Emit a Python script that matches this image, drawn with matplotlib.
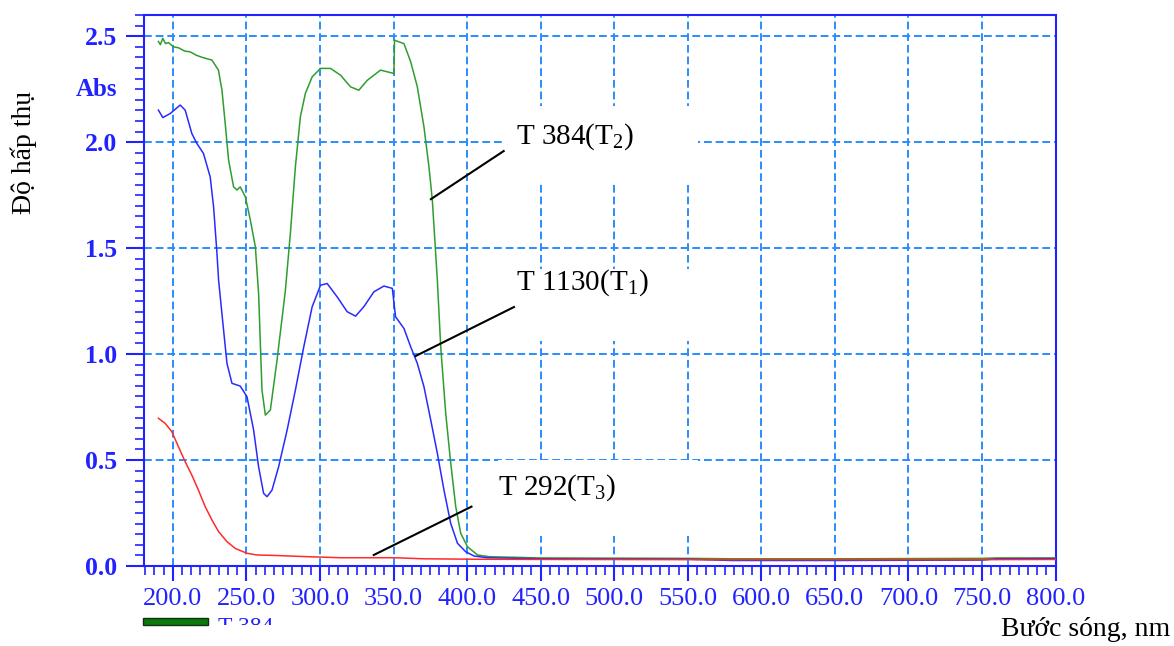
import matplotlib
matplotlib.use("Agg")
import matplotlib.pyplot as plt
from matplotlib.ticker import MultipleLocator, FormatStrFormatter
from matplotlib.patches import Rectangle
from matplotlib.transforms import Bbox

# wavelength (nm) / absorbance
t2_x = [190.2, 191.5, 193.2, 195.0, 197.0, 200.4, 204.0, 208.0, 211.8, 216.0, 220.0, 226.6, 231.0, 233.4,
        235.6, 237.9, 241.3, 243.6, 245.8, 249.3, 252.7, 256.1, 258.3, 260.6, 262.9, 266.3, 270.8,
        276.5, 279.9, 283.3, 286.7, 290.1, 294.7, 300.4, 307.2, 314.0, 320.8, 326.4, 332.2, 341.2,
        350.3, 350.7, 357.1, 361.7, 366.2, 370.7, 374.1, 376.4, 379.8, 382.1, 385.5, 388.9, 392.3,
        395.7, 400.3, 407.1, 415.0, 450.0, 500.0, 550.0, 580.0, 650.0, 700.0, 750.0, 760.0, 800.0]
t2_y = [2.475, 2.46, 2.49, 2.465, 2.47, 2.45, 2.445, 2.43, 2.426, 2.41, 2.40, 2.387, 2.34, 2.245,
        2.088, 1.915, 1.789, 1.774, 1.789, 1.742, 1.632, 1.506, 1.286, 0.83, 0.712, 0.736, 0.97,
        1.30, 1.57, 1.883, 2.12, 2.23, 2.308, 2.348, 2.348, 2.316, 2.261, 2.245, 2.292, 2.34,
        2.324, 2.481, 2.465, 2.379, 2.261, 2.072, 1.883, 1.726, 1.349, 1.034, 0.72, 0.485, 0.28,
        0.154, 0.091, 0.052, 0.044, 0.038, 0.037, 0.036, 0.034, 0.034, 0.035, 0.036, 0.038, 0.038]

t1_x = [190.2, 193.2, 198.2, 205.0, 208.4, 212.9, 216.3, 220.8, 225.4, 227.7, 230.0, 231.1, 234.5,
        236.8, 240.2, 245.8, 250.4, 254.9, 258.3, 261.7, 264.0, 267.4, 271.9, 277.7, 283.3, 289.0,
        294.7, 300.4, 304.9, 311.7, 318.5, 324.2, 329.8, 336.7, 343.5, 349.2, 351.4, 357.1, 361.7,
        366.2, 370.7, 375.3, 379.8, 384.3, 388.9, 393.5, 399.1, 404.8, 413.9, 450.0, 500.0, 550.0,
        580.0, 650.0, 700.0, 750.0, 760.0, 800.0]
t1_y = [2.151, 2.116, 2.135, 2.175, 2.151, 2.041, 1.994, 1.947, 1.836, 1.695, 1.475, 1.349, 1.113,
        0.956, 0.862, 0.849, 0.799, 0.642, 0.468, 0.343, 0.327, 0.358, 0.468, 0.642, 0.83, 1.034,
        1.223, 1.325, 1.333, 1.27, 1.20, 1.179, 1.223, 1.294, 1.321, 1.31, 1.176, 1.121, 1.034,
        0.956, 0.846, 0.689, 0.532, 0.358, 0.201, 0.107, 0.067, 0.047, 0.039, 0.034, 0.033, 0.032,
        0.026, 0.026, 0.027, 0.028, 0.034, 0.035]

t3_x = [190.2, 194.8, 199.3, 203.8, 208.4, 212.9, 217.4, 222.0, 226.6, 231.1, 236.8, 242.4, 250.4,
        257.2, 268.5, 291.3, 314.0, 350.3, 370.7, 404.8, 450.0, 550.0, 650.0, 750.0, 800.0]
t3_y = [0.697, 0.673, 0.634, 0.563, 0.492, 0.429, 0.358, 0.28, 0.217, 0.162, 0.115, 0.083, 0.06,
        0.052, 0.05, 0.044, 0.039, 0.039, 0.034, 0.032, 0.031, 0.03, 0.03, 0.03, 0.031]

x_ticks = [200, 250, 300, 350, 400, 450, 500, 550, 600, 650, 700, 750, 800]
y_ticks = [0.0, 0.5, 1.0, 1.5, 2.0, 2.5]

AX_BLUE = "#2222ff"
GRID_BLUE = "#2b8cff"
SERIF = "Liberation Serif"

plt.rcParams["mathtext.fontset"] = "custom"
plt.rcParams["mathtext.rm"] = SERIF

fig = plt.figure(figsize=(11.74, 6.46), dpi=100)
ax = fig.add_axes([144 / 1174, 80 / 646, 911.5 / 1174, 551 / 646])

ax.plot(t2_x, t2_y, color="#2e9e2e", lw=1.1, zorder=3)
ax.plot(t1_x, t1_y, color="#2a2aff", lw=1.1, zorder=3)
ax.plot(t3_x, t3_y, color="#ff2a2a", lw=1.1, zorder=3)

ax.set_xlim(180.4, 800)
ax.set_ylim(0, 2.6)

ax.xaxis.set_major_locator(MultipleLocator(50))
ax.xaxis.set_minor_locator(MultipleLocator(6.25))
ax.yaxis.set_major_locator(MultipleLocator(0.5))
ax.yaxis.set_minor_locator(MultipleLocator(0.05))
ax.set_xticks(x_ticks)
ax.set_yticks(y_ticks)
ax.xaxis.set_major_formatter(FormatStrFormatter("%.1f"))
ax.yaxis.set_major_formatter(FormatStrFormatter("%.1f"))

for s in ax.spines.values():
    s.set_color(AX_BLUE)
    s.set_linewidth(1.5)

ax.tick_params(axis="x", which="major", length=11, width=1.5, color=AX_BLUE, pad=5,
               labelsize=19, labelcolor=AX_BLUE)
ax.tick_params(axis="x", which="minor", length=6.5, width=1.2, color=AX_BLUE)
ax.tick_params(axis="y", which="major", length=13, width=1.5, color=AX_BLUE, pad=6,
               labelsize=18.5, labelcolor=AX_BLUE)
ax.tick_params(axis="y", which="minor", length=6.5, width=1.2, color=AX_BLUE)
for lab in ax.get_xticklabels():
    lab.set_fontfamily(SERIF)
for lab in ax.get_yticklabels():
    lab.set_fontfamily(SERIF)
    lab.set_fontweight("bold")

ax.set_axisbelow(True)
ax.grid(True, which="major", color=GRID_BLUE, lw=1.4, linestyle=(0, (4, 2)))

# white boxes behind the labels hide the grid there
for (x0, x1, y0, y1) in [(425, 557, 1.81, 2.17), (425, 557, 1.06, 1.40), (421, 557, 0.14, 0.50)]:
    ax.add_patch(Rectangle((x0, y0), x1 - x0, y1 - y0, facecolor="white", edgecolor="none", zorder=1))

# labels with leader lines
ax.plot([375.4, 424.9], [1.731, 1.958], color="black", lw=1.5, zorder=4)
ax.plot([365.1, 431.9], [0.991, 1.222], color="black", lw=1.5, zorder=4)
ax.plot([336.6, 403.0], [0.052, 0.280], color="black", lw=1.5, zorder=4)
ax.text(433.5, 1.995, "T 384(T$_\\mathregular{2}$)", fontsize=21, family=SERIF, va="baseline")
ax.text(433.5, 1.302, "T 1130(T$_\\mathregular{1}$)", fontsize=21, family=SERIF, va="baseline")
ax.text(420.8, 0.335, "T 292(T$_\\mathregular{3}$)", fontsize=21, family=SERIF, va="baseline")

fig.text(117 / 1174, 1 - 90 / 646, "Abs", ha="right", va="center", fontsize=18,
         fontweight="bold", color=AX_BLUE, family=SERIF)
fig.text(24 / 1174, 1 - 152 / 646, "Độ hấp thụ", rotation=90, ha="center", va="center",
         fontsize=20, family=SERIF)
fig.text(1170 / 1174, 1 - 630 / 646, "Bước sóng, nm", ha="right", va="center",
         fontsize=20, family=SERIF)

# cut-off legend fragment at the bottom
fig.patches.append(Rectangle((143 / 1174, 1 - 625 / 646), 65 / 1174, 7.5 / 646,
                             transform=fig.transFigure, facecolor="#0a7a0a", edgecolor="#103010", lw=1))
frag = fig.text(218 / 1174, 1 - 617 / 646, "T 384", ha="left", va="top", fontsize=17,
                family=SERIF, color=AX_BLUE)
frag.set_clip_box(Bbox.from_extents(0, 646 - 625, 1174, 646))
frag.set_clip_on(True)

fig.savefig("out.png", dpi=100)
